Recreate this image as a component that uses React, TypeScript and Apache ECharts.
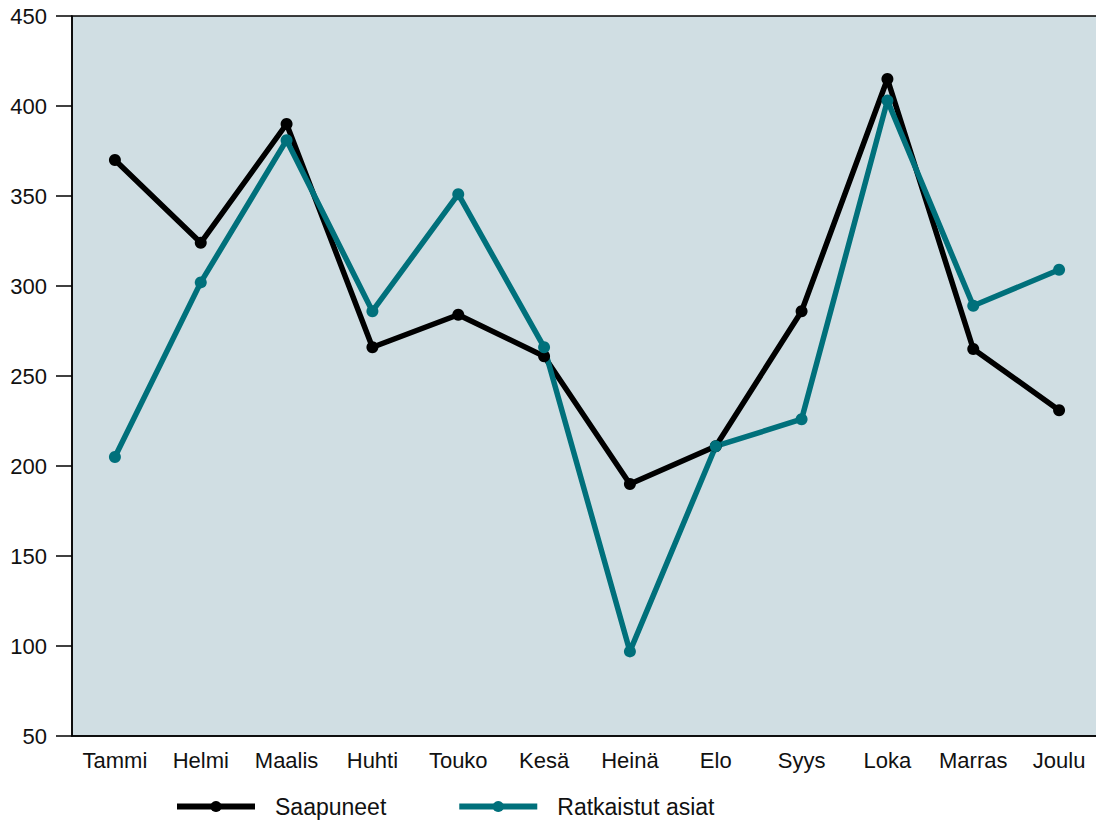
import React, { useEffect, useRef } from "react";
import * as echarts from "echarts";

const months = ["Tammi", "Helmi", "Maalis", "Huhti", "Touko", "Kesä", "Heinä", "Elo", "Syys", "Loka", "Marras", "Joulu"];
const saapuneet = [370, 324, 390, 266, 284, 261, 190, 211, 286, 415, 265, 231];
const ratkaistut = [205, 302, 381, 286, 351, 266, 97, 211, 226, 403, 289, 309];
const seriesNames = ["Saapuneet", "Ratkaistut asiat"];
const colors = ["#000000", "#00707b"];

export default function App() {
  const ref = useRef<HTMLDivElement>(null);
  useEffect(() => {
    const chart = echarts.init(ref.current!, null, { renderer: "svg" });
    const font = "'Liberation Sans', Arial, Helvetica, sans-serif";
    chart.setOption({
      animation: false,
      grid: {
        left: 72,
        top: 16,
        width: 1030,
        bottom: 85,
        containLabel: false,
        outerBoundsMode: "none",
        show: true,
        backgroundColor: "#d0dee3",
        borderColor: "#000",
        borderWidth: 1.5,
      },
      legend: {
        left: 169,
        top: 790,
        padding: 5,
        itemWidth: 78,
        itemHeight: 14,
        itemGap: 70,
        lineStyle: { width: 6 },
        textStyle: { fontSize: 23, color: "#111", fontFamily: font, padding: [0, 0, 0, 15] },
        data: seriesNames,
      },
      xAxis: {
        type: "category",
        data: months,
        boundaryGap: true,
        axisLine: { lineStyle: { color: "#000", width: 1.5 } },
        axisTick: { show: false },
        axisLabel: { fontSize: 22, color: "#111", fontFamily: font, margin: 13, interval: 0 },
      },
      yAxis: {
        type: "value",
        min: 50,
        max: 450,
        interval: 50,
        axisLine: { show: true, lineStyle: { color: "#000", width: 1.5 } },
        axisTick: { show: true, length: 16, lineStyle: { color: "#000", width: 1.5 } },
        splitLine: { show: false },
        axisLabel: { fontSize: 22, color: "#111", fontFamily: font, margin: 25 },
      },
      series: [
        {
          name: seriesNames[0],
          type: "line",
          data: saapuneet,
          symbol: "circle",
          symbolSize: 12,
          lineStyle: { color: colors[0], width: 5.5 },
          itemStyle: { color: colors[0] },
        },
        {
          name: seriesNames[1],
          type: "line",
          data: ratkaistut,
          symbol: "circle",
          symbolSize: 12,
          lineStyle: { color: colors[1], width: 5.5 },
          itemStyle: { color: colors[1] },
        },
      ],
    });
    return () => chart.dispose();
  }, []);
  return <div ref={ref} style={{ position: "absolute", left: 0, top: 0, width: 1096, height: 821 }} />;
}
